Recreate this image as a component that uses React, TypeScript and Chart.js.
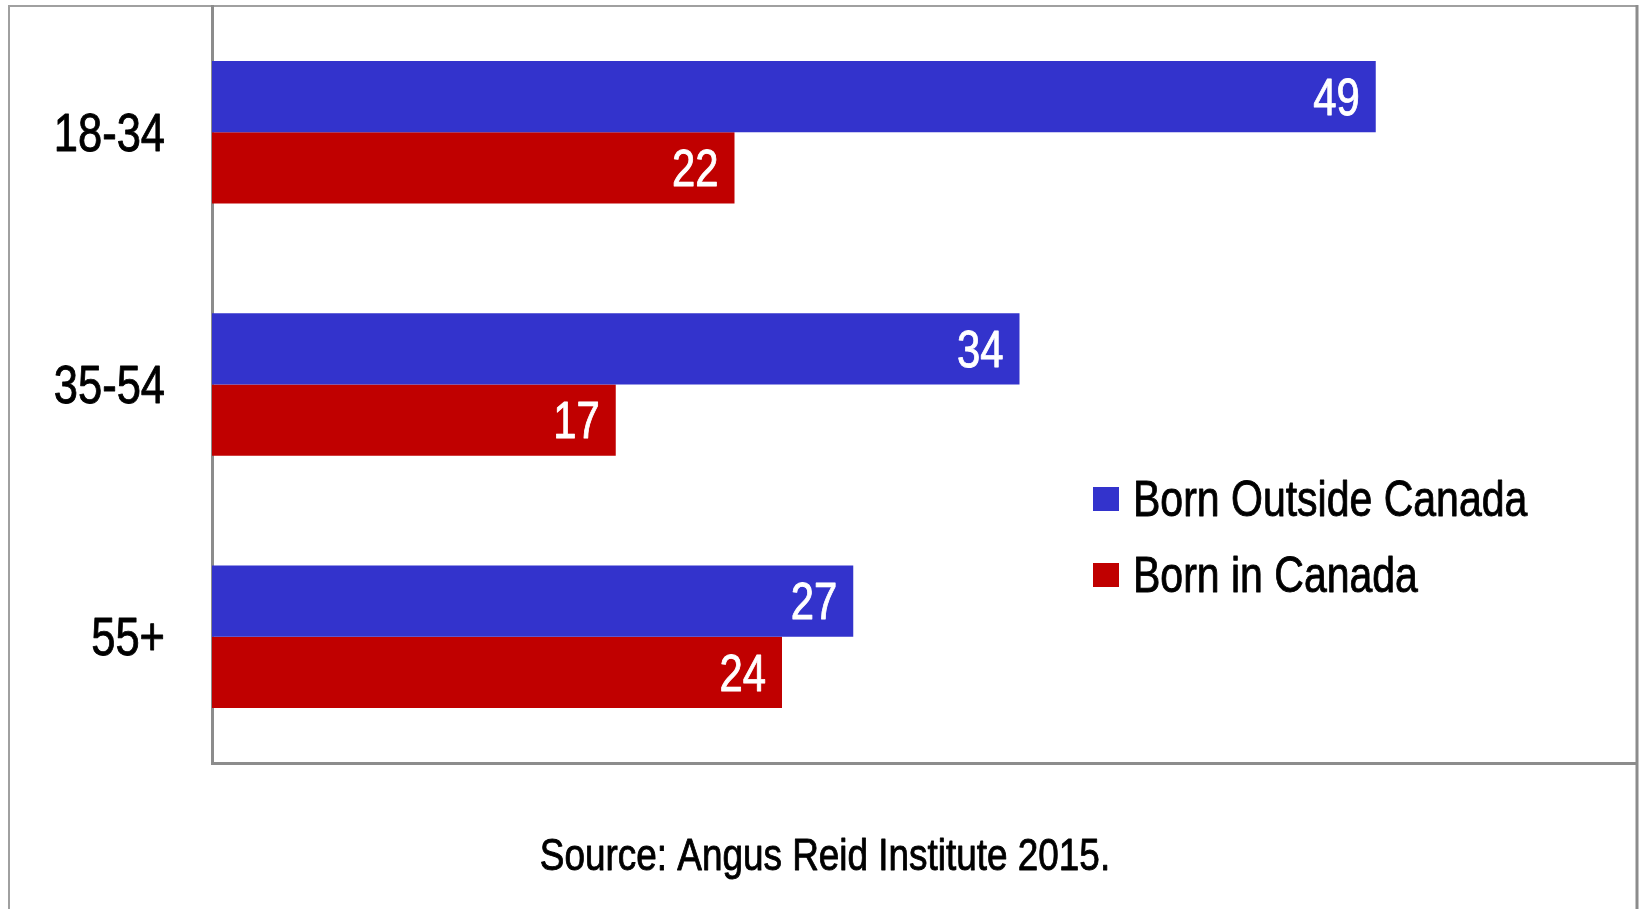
import React, { useEffect, useRef } from "react";
import { Chart, registerables } from "chart.js";

Chart.register(...registerables);

const categories = ["18-34", "35-54", "55+"];
const seriesNames = ["Born Outside Canada", "Born in Canada"];
const bornOutside = [49, 34, 27];
const bornIn = [22, 17, 24];
const seriesColors = ["#3333CC", "#C00000"];
const sourceText = "Source: Angus Reid Institute 2015.";
const xMin = 0;
const xMax = 60;

const FONT = "'Liberation Sans', Arial, sans-serif";
const NARROW = 0.82;

function narrowText(ctx: any, text: string, x: number, y: number, align: string) {
  ctx.save();
  ctx.translate(x, y);
  ctx.scale(NARROW, 1);
  ctx.textAlign = align;
  ctx.strokeStyle = ctx.fillStyle;
  ctx.lineWidth = 0.9;
  ctx.lineJoin = "round";
  ctx.fillText(text, 0, 0);
  ctx.strokeText(text, 0, 0);
  ctx.restore();
}

const framePlugin = {
  id: "frame",
  beforeDraw(chart: any) {
    const ctx = chart.ctx;
    ctx.save();
    ctx.strokeStyle = "#a0a0a0";
    ctx.lineWidth = 2;
    ctx.beginPath();
    ctx.moveTo(9, 960);
    ctx.lineTo(9, 6);
    ctx.lineTo(1637, 6);
    ctx.stroke();
    ctx.strokeStyle = "#8c8c8c";
    ctx.lineWidth = 3;
    ctx.beginPath();
    ctx.moveTo(1637, 5);
    ctx.lineTo(1637, 960);
    ctx.stroke();
    ctx.restore();
  },
};

const labelsPlugin = {
  id: "valueLabels",
  afterDatasetsDraw(chart: any) {
    const ctx = chart.ctx;
    ctx.save();
    ctx.font = `51px ${FONT}`;
    ctx.fillStyle = "#ffffff";
    ctx.textBaseline = "middle";
    chart.data.datasets.forEach((ds: any, di: number) => {
      const meta = chart.getDatasetMeta(di);
      meta.data.forEach((el: any, i: number) => {
        narrowText(ctx, String(ds.data[i]), el.x - 16, el.y + 4, "right");
      });
    });
    ctx.restore();
  },
};

const textPlugin = {
  id: "customText",
  afterDraw(chart: any) {
    const ctx = chart.ctx;
    ctx.save();
    ctx.textBaseline = "middle";
    const yScale = chart.scales.y;
    ctx.fillStyle = "#000000";
    ctx.font = `53px ${FONT}`;
    yScale.ticks.forEach((_t: any, i: number) => {
      const py = yScale.getPixelForTick(i);
      narrowText(ctx, String(chart.data.labels[i]), 165, py + 4, "right");
    });
    chart.data.datasets.forEach((ds: any, di: number) => {
      const y = 499 + di * 76;
      ctx.fillStyle = ds.backgroundColor;
      ctx.fillRect(1093, y - 12, 26, 24);
      ctx.fillStyle = "#000000";
      ctx.font = `50px ${FONT}`;
      narrowText(ctx, ds.label, 1133, y + 3, "left");
    });
    ctx.font = `45px ${FONT}`;
    ctx.fillStyle = "#000000";
    narrowText(ctx, sourceText, 825, 858, "center");
    ctx.restore();
  },
};

export default function App() {
  const ref = useRef<HTMLCanvasElement | null>(null);
  useEffect(() => {
    document.body.style.margin = "0";
    const canvas = ref.current;
    if (!canvas) return;
    const chart = new Chart(canvas, {
      type: "bar",
      data: {
        labels: categories,
        datasets: [
          { label: seriesNames[0], data: bornOutside, backgroundColor: seriesColors[0] },
          { label: seriesNames[1], data: bornIn, backgroundColor: seriesColors[1] },
        ],
      },
      options: {
        indexAxis: "y",
        responsive: false,
        maintainAspectRatio: false,
        animation: false,
        layout: { padding: { top: 6, right: 2, left: 0, bottom: 0 } },
        datasets: { bar: { categoryPercentage: 0.565, barPercentage: 1 } },
        plugins: { legend: { display: false }, tooltip: { enabled: false }, title: { display: false } },
        scales: {
          x: {
            min: xMin,
            max: xMax,
            grid: { display: false },
            ticks: { display: false },
            border: { display: true, color: "#8c8c8c", width: 3 },
            afterFit(scale: any) {
              scale.height = 146;
            },
          },
          y: {
            grid: { display: false },
            ticks: { display: false },
            border: { display: true, color: "#8c8c8c", width: 3 },
            afterFit(scale: any) {
              scale.width = 212;
            },
          },
        },
      },
      plugins: [framePlugin, labelsPlugin, textPlugin],
    } as any);
    return () => chart.destroy();
  }, []);
  return (
    <div style={{ position: "absolute", left: 0, top: 0, width: 1639, height: 909, background: "#ffffff" }}>
      <canvas ref={ref} width={1639} height={909} />
    </div>
  );
}
